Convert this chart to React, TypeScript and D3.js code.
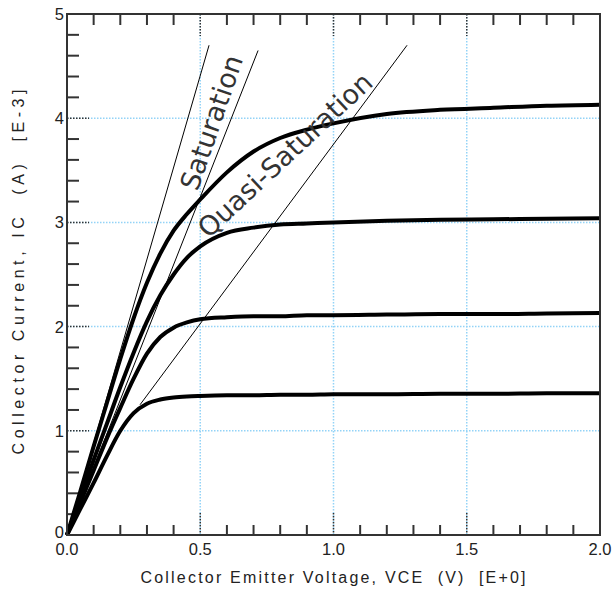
import React from 'react';
import * as d3 from 'd3';

// collector-emitter voltage (V), shared by all curves
const vce = [0, 0.05, 0.1, 0.15, 0.2, 0.25, 0.3, 0.35, 0.4, 0.45, 0.5, 0.6, 0.7, 0.8, 0.9, 1.0, 1.2, 1.4, 1.6, 1.8, 2.0];
// collector current (mA) for each base drive
const ic1 = [0, 0.25, 0.5, 0.76, 1.0, 1.17, 1.26, 1.3, 1.32, 1.33, 1.335, 1.34, 1.34, 1.345, 1.345, 1.35, 1.35, 1.355, 1.355, 1.36, 1.36];
const ic2 = [0, 0.31, 0.62, 0.93, 1.22, 1.5, 1.74, 1.9, 1.99, 2.04, 2.07, 2.09, 2.1, 2.1, 2.11, 2.11, 2.115, 2.12, 2.12, 2.125, 2.13];
const ic3 = [0, 0.36, 0.72, 1.07, 1.42, 1.75, 2.05, 2.3, 2.5, 2.66, 2.77, 2.9, 2.95, 2.98, 2.99, 3.0, 3.015, 3.025, 3.03, 3.035, 3.04];
const ic4 = [0, 0.42, 0.85, 1.27, 1.69, 2.08, 2.42, 2.7, 2.92, 3.08, 3.22, 3.48, 3.68, 3.81, 3.89, 3.95, 4.04, 4.08, 4.1, 4.12, 4.13];
const curves = [ic1, ic2, ic3, ic4];

// thin guide lines
const guideStartV = [0, 0, 0.274];
const guideStartI = [0, 0, 1.25];
const guideEndV = [0.533, 0.717, 1.276];
const guideEndI = [4.7, 4.65, 4.7];

const xTickLabels = ['0.0', '0.5', '1.0', '1.5', '2.0'];
const yTickLabels = ['0', '1', '2', '3', '4', '5'];
const xLabel = 'Collector Emitter Voltage, VCE  (V)  [E+0]';
const yLabel = 'Collector Current, IC  (A)  [E-3]';

const W = 614, H = 592;
const left = 67, right = 600, top = 14, bottom = 535;

export default function App() {
  const x = d3.scaleLinear().domain([0, 2]).range([left, right]);
  const y = d3.scaleLinear().domain([0, 5]).range([bottom, top]);
  const line = d3.line<number>().x((d, i) => x(vce[i])).y(d => y(d)).curve(d3.curveMonotoneX);

  const xMinor = d3.range(1, 20).filter(i => i % 5 !== 0).map(i => i / 10);
  const yMinor = d3.range(1, 25).filter(i => i % 5 !== 0).map(i => i / 5);
  const xMajor = [0.5, 1.0, 1.5];
  const yMajor = [1, 2, 3, 4];
  const axisCol = '#333';
  const gridCol = '#93d3f7';
  const font = '"Liberation Sans", Arial, sans-serif';

  return (
    <svg width={W} height={H} style={{ position: 'absolute', left: 0, top: 0, background: '#fff' }}>
      <rect width={W} height={H} fill="#fff" />
      {/* grid */}
      {xMajor.map(v => (
        <g key={'gx' + v}>
          <line x1={x(v)} x2={x(v)} y1={top} y2={bottom} stroke={gridCol} strokeWidth={1.5} strokeDasharray="1.5,1.5" />
          <line x1={x(v)} x2={x(v)} y1={top} y2={top + 22} stroke={axisCol} strokeWidth={1.5} strokeDasharray="1.5,1.5" />
          <line x1={x(v)} x2={x(v)} y1={bottom - 22} y2={bottom} stroke={axisCol} strokeWidth={1.5} strokeDasharray="1.5,1.5" />
        </g>
      ))}
      {yMajor.map(v => (
        <g key={'gy' + v}>
          <line x1={left} x2={right} y1={y(v)} y2={y(v)} stroke={gridCol} strokeWidth={1.5} strokeDasharray="1.5,1.5" />
          <line x1={left} x2={left + 22} y1={y(v)} y2={y(v)} stroke={axisCol} strokeWidth={1.5} strokeDasharray="1.5,1.5" />
        </g>
      ))}
      {/* minor ticks */}
      {xMinor.map(v => (
        <g key={'tx' + v}>
          <line x1={x(v)} x2={x(v)} y1={bottom} y2={bottom - 10} stroke={axisCol} strokeWidth={2} />
          <line x1={x(v)} x2={x(v)} y1={top} y2={top + 11} stroke={axisCol} strokeWidth={2} />
        </g>
      ))}
      {yMinor.map(v => (
        <line key={'ty' + v} x1={left} x2={left + 12} y1={y(v)} y2={y(v)} stroke={axisCol} strokeWidth={2} />
      ))}
      {/* guide lines */}
      {guideStartV.map((v, i) => (
        <line key={'gl' + i} x1={x(v)} y1={y(guideStartI[i])} x2={x(guideEndV[i])} y2={y(guideEndI[i])} stroke="#000" strokeWidth={1} />
      ))}
      {/* curves */}
      {curves.map((c, i) => (
        <path key={'c' + i} d={line(c) || ''} fill="none" stroke="#000" strokeWidth={4} />
      ))}
      {/* frame */}
      <rect x={left} y={top} width={right - left} height={bottom - top} fill="none" stroke={axisCol} strokeWidth={2} />
      {/* tick labels */}
      {xTickLabels.map((t, i) => (
        <text key={'xl' + t} x={x(i * 0.5)} y={bottom + 20} textAnchor="middle" fontFamily={font} fontSize={16.5} fill="#222">{t}</text>
      ))}
      {yTickLabels.map((t, i) => (
        <text key={'yl' + t} x={left - 3} y={y(i) - (i === 0 ? 3 : 0)} dy="0.36em" textAnchor="end" fontFamily={font} fontSize={16.5} fill="#222">{t}</text>
      ))}
      {/* axis titles */}
      <text x={333} y={583} textAnchor="middle" fontFamily={font} fontSize={16} fill="#222" textLength={385} lengthAdjust="spacing" style={{ whiteSpace: 'pre' }}>{xLabel}</text>
      <text transform={`translate(24, 272) rotate(-90)`} textAnchor="middle" fontFamily={font} fontSize={16} fill="#222" textLength={365} lengthAdjust="spacing" style={{ whiteSpace: 'pre' }}>{yLabel}</text>
      {/* region annotations */}
      <text transform="translate(211.5, 122.5) rotate(-71)" textAnchor="middle" dy="0.35em" fontFamily="DejaVu Sans, sans-serif" fontSize={27} fill="#333">Saturation</text>
      <text transform="translate(285, 155) rotate(-43)" textAnchor="middle" dy="0.35em" fontFamily="DejaVu Sans, sans-serif" fontSize={27} fill="#333">Quasi-Saturation</text>
    </svg>
  );
}
